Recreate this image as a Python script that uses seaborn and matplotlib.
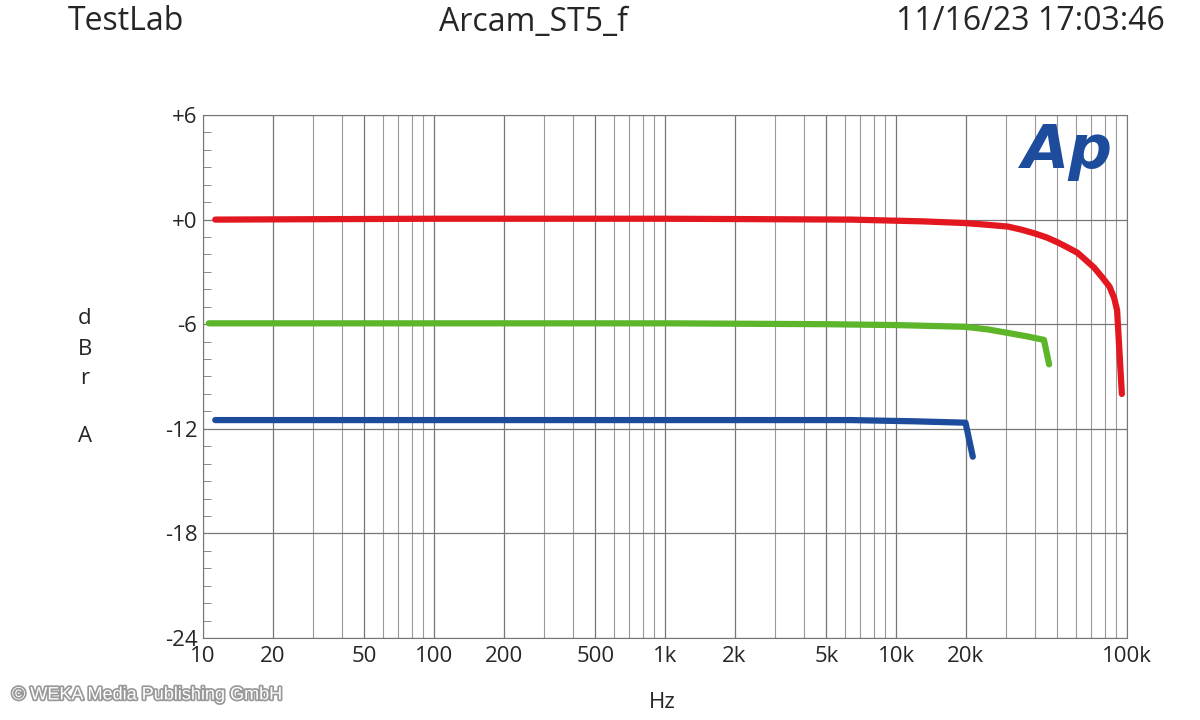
import matplotlib
matplotlib.use("Agg")
import matplotlib.pyplot as plt
import matplotlib.patheffects as pe
from matplotlib.ticker import FixedLocator, MultipleLocator
import pandas as pd
import seaborn as sns

red_hz = [11.3, 100, 1000, 6400, 13000, 20000, 25000, 30500, 35000, 40000, 45000, 50000, 55000,
          61000, 66000, 72000, 78000, 84000, 88000, 90600, 95000]
red_db = [0.0, 0.05, 0.05, 0.0, -0.1, -0.2, -0.3, -0.4, -0.58, -0.8, -1.03, -1.3, -1.58,
          -1.9, -2.3, -2.75, -3.3, -3.85, -4.5, -5.2, -10.0]
green_hz = [10.6, 100, 1000, 5000, 10000, 20000, 25000, 30500, 37000, 43700, 46000]
green_db = [-5.95, -5.95, -5.95, -6.0, -6.05, -6.15, -6.3, -6.5, -6.7, -6.9, -8.3]
blue_hz = [11.3, 100, 1000, 6400, 12000, 20000, 21500]
blue_db = [-11.5, -11.5, -11.5, -11.5, -11.57, -11.65, -13.6]

x_ticks = [10, 20, 50, 100, 200, 500, 1000, 2000, 5000, 10000, 20000, 100000]
x_labels = ["10", "20", "50", "100", "200", "500", "1k", "2k", "5k", "10k", "20k", "100k"]
y_ticks = [6, 0, -6, -12, -18, -24]
y_labels = ["+6", "+0", "-6", "-12", "-18", "-24"]

sns.set_style("white")
plt.rcParams["font.family"] = ["Open Sans", "DejaVu Sans"]

fig = plt.figure(figsize=(12, 7.2), dpi=100)
ax = fig.add_axes([203 / 1200, 1 - 638 / 720, (1127 - 203) / 1200, (638 - 115) / 720])

for hz, db, col in [(red_hz, red_db, "#e3171f"), (green_hz, green_db, "#5db52a"), (blue_hz, blue_db, "#1d4c9c")]:
    df = pd.DataFrame({"Hz": hz, "dB": db})
    sns.lineplot(data=df, x="Hz", y="dB", ax=ax, color=col, linewidth=4.5, sort=False,
                 solid_capstyle="round", zorder=3)

ax.set_xscale("log")
ax.set_xlim(10, 100000)
ax.set_ylim(-24, 6)
minor = [m * 10 ** e for e in range(1, 5) for m in range(2, 10)]
ax.xaxis.set_minor_locator(FixedLocator(minor))
ax.set_xticks(x_ticks)
ax.set_xticklabels(x_labels, fontsize=16)
ax.set_yticks(y_ticks)
ax.set_yticklabels(y_labels, fontsize=16)
ax.yaxis.set_minor_locator(MultipleLocator(1))
ax.grid(True, which="major", color="#777777", linewidth=0.9)
ax.grid(True, which="minor", axis="x", color="#999999", linewidth=0.8)
ax.tick_params(axis="y", which="minor", direction="in", length=6, left=True, color="#777777")
ax.tick_params(axis="x", which="major", length=0, pad=6)
ax.tick_params(axis="y", which="major", length=0, pad=4)
for s in ax.spines.values():
    s.set_color("#777777")
ax.set_xlabel("")
ax.set_ylabel("")

fig.text(68 / 1200, 1 - 22 / 720, "TestLab", fontsize=23, va="center", ha="left")
fig.text(533 / 1200, 1 - 22 / 720, "Arcam_ST5_f", fontsize=23, va="center", ha="center")
fig.text(1165 / 1200, 1 - 22 / 720, "11/16/23 17:03:46", fontsize=23, va="center", ha="right")
fig.text(662 / 1200, 1 - 702 / 720, "Hz", fontsize=16, va="center", ha="center")
for ch, y in [("d", 318), ("B", 349), ("r", 378), ("A", 437)]:
    fig.text(85 / 1200, 1 - y / 720, ch, fontsize=16, va="center", ha="center")
ax.text(0.985, 0.93, "Ap", transform=ax.transAxes, fontsize=44, fontweight="bold",
        fontstyle="italic", color="#1d4c9c", ha="right", va="center", family="DejaVu Sans")
fig.text(12 / 1200, 1 - 695 / 720, "© WEKA Media Publishing GmbH", fontsize=13, color="white",
         va="center", ha="left", family="Liberation Sans",
         path_effects=[pe.withStroke(linewidth=2.5, foreground="#999999")])

fig.savefig("out.png", dpi=100)
